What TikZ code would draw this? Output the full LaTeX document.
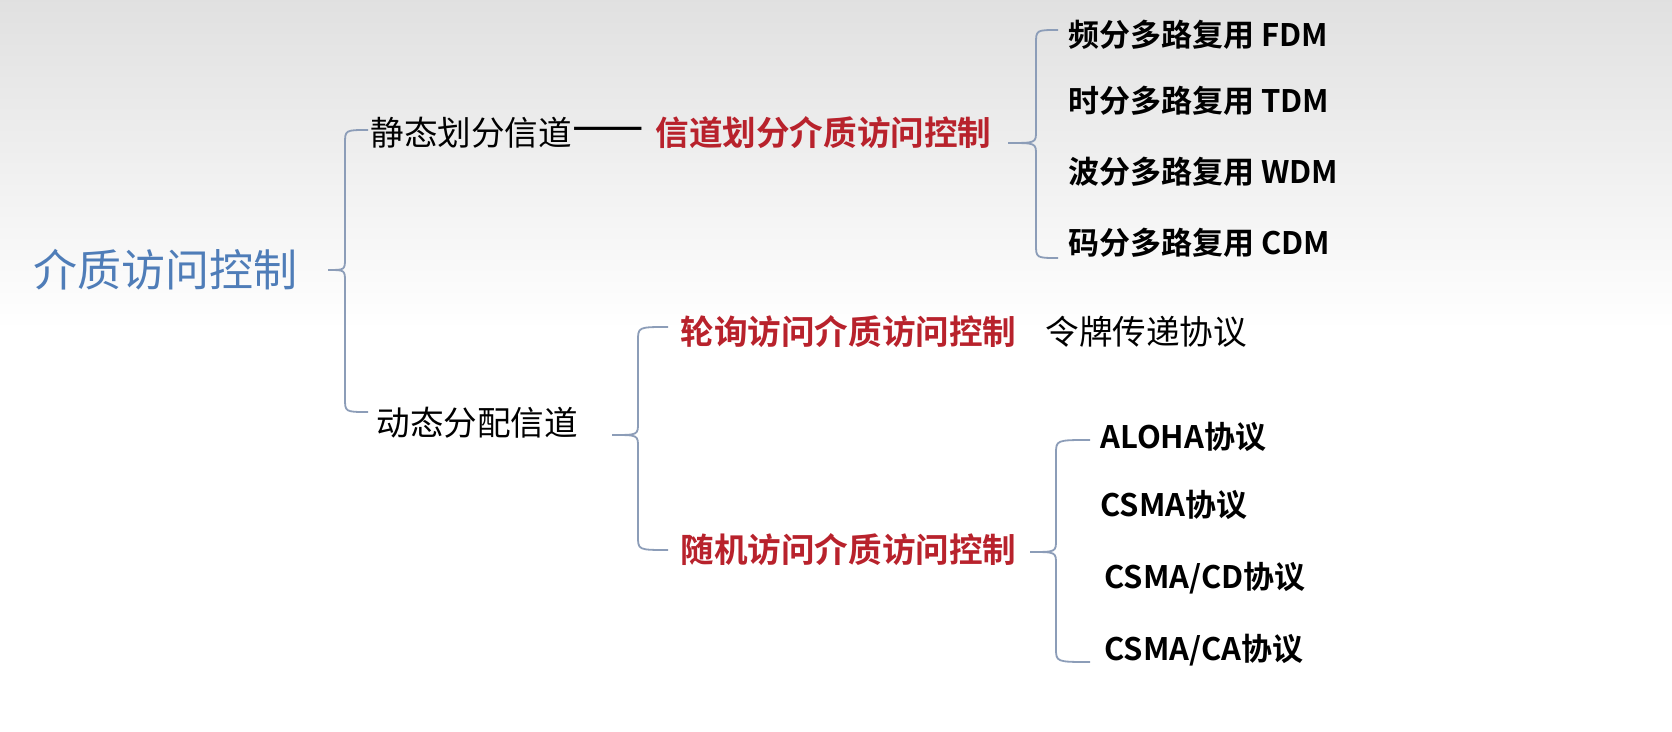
\documentclass[tikz,border=0pt]{standalone}
\usepackage{fontspec}
\setmainfont{Noto Sans CJK SC}
\newfontfamily\cjkb{Noto Sans CJK SC Bold}
\definecolor{tblue}{HTML}{4F7DB8}
\definecolor{tred}{HTML}{B8222C}
\definecolor{brk}{HTML}{8C9DB8}
\def\mybrace(#1,#2,#3,#4,#5,#6){\draw[brk,line width=0.9pt] (#1,#4) .. controls (#2,#4) .. (#2,#4+14) -- (#2,#5-12) .. controls (#2,#5) .. (#3,#5) .. controls (#2,#5) .. (#2,#5+12) -- (#2,#6-14) .. controls (#2,#6) .. (#1,#6);}
\begin{document}
\begin{tikzpicture}[x=0.5pt,y=-0.5pt,
  txt/.style={anchor=west,inner sep=0pt,font=\fontsize{16.8pt}{18pt}\selectfont},
  rtxt/.style={txt,text=tred,font=\fontsize{16.8pt}{18pt}\selectfont\cjkb},
  itm/.style={anchor=west,inner sep=0pt,font=\fontsize{15.5pt}{18pt}\selectfont\cjkb}]
\useasboundingbox (0,0) rectangle (1672,732);
\shade[top color=black!12,bottom color=white] (0,0) rectangle (1672,330);
\node[anchor=west,inner sep=0pt,text=tblue,font=\fontsize{22pt}{24pt}\selectfont] (root) at (33,270) {介质访问控制};
\mybrace(368,345,328,130,270,412)
\node[txt] (s1) at (370,133) {静态划分信道};
\node[txt,anchor=west,font=\fontsize{16.8pt}{18pt}\selectfont\cjkb,xscale=1.25] (dash) at (572,133) {——};
\node[rtxt] (s1r) at (655,133) {信道划分介质访问控制};
\mybrace(1058,1036,1008,30,143,258)
\node[itm] (f1) at (1068,35) {频分多路复用 FDM};
\node[itm] (f2) at (1068,101) {时分多路复用 TDM};
\node[itm] (f3) at (1068,172) {波分多路复用 WDM};
\node[itm] (f4) at (1068,243) {码分多路复用 CDM};
\node[txt] (s2) at (376,423) {动态分配信道};
\mybrace(668,638,612,327,435,550)
\node[rtxt] (p1) at (680,332) {轮询访问介质访问控制};
\node[txt] (p1b) at (1045,332) {令牌传递协议};
\node[rtxt] (p2) at (680,550) {随机访问介质访问控制};
\mybrace(1090,1056,1030,440,552,662)
\node[itm] (r1) at (1100,437) {ALOHA协议};
\node[itm] (r2) at (1100,505) {CSMA协议};
\node[itm] (r3) at (1104,578) {CSMA/CD协议};
\node[itm] (r4) at (1104,650) {CSMA/CA协议};
\end{tikzpicture}
\end{document}
